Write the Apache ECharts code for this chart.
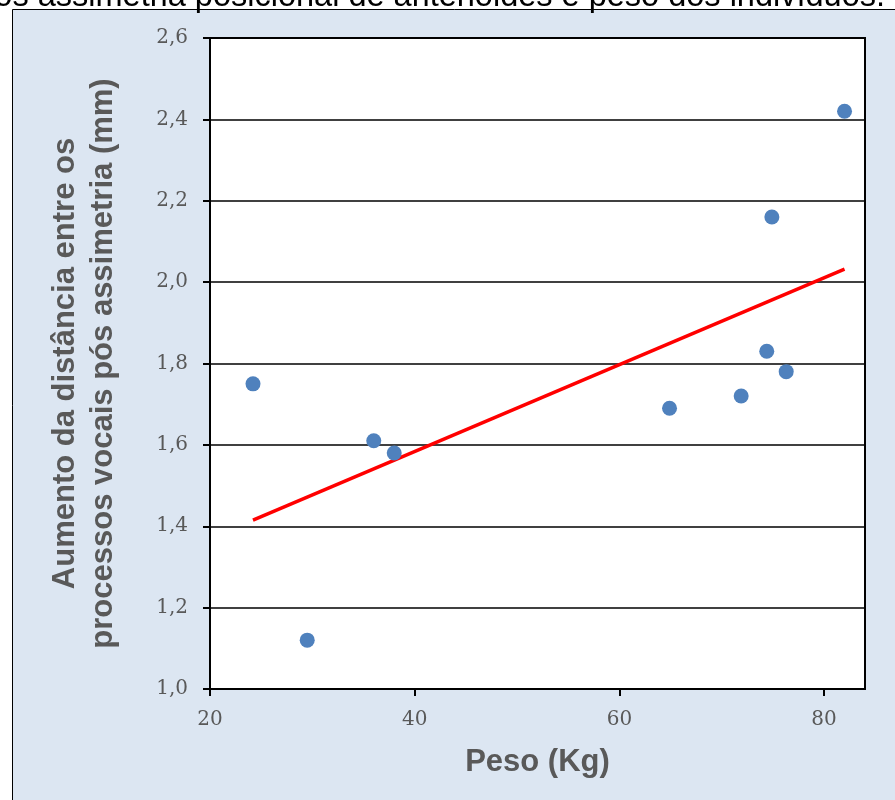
<!DOCTYPE html>
<html>
<head>
<meta charset="utf-8">
<script src="https://cdn.jsdelivr.net/npm/echarts@6/dist/echarts.min.js"></script>
<style>
  html, body { margin: 0; padding: 0; background: #ffffff; }
  #chart { width: 895px; height: 800px; }
</style>
</head>
<body>
<div id="chart"></div>
<script>
// peso (kg) e aumento da distância (mm)
const pesoKg = [24.2, 29.5, 36.0, 38.0, 64.9, 71.9, 74.4, 74.9, 76.3, 82.0];
const aumentoMm = [1.75, 1.12, 1.61, 1.58, 1.69, 1.72, 1.83, 2.16, 1.78, 2.42];
// linha de tendência (extremos)
const tendX = [24.2, 82.0];
const tendY = [1.415, 2.032];

const pontos = pesoKg.map(function (x, i) { return [x, aumentoMm[i]]; });
const tendencia = tendX.map(function (x, i) { return [x, tendY[i]]; });

const cinza = '#595959';
const myChart = echarts.init(document.getElementById('chart'));

const option = {
  backgroundColor: '#ffffff',
  animation: false,
  graphic: [
    {
      type: 'rect',
      z: -10,
      shape: { x: 12.5, y: 9.5, width: 900, height: 800 },
      style: { fill: '#dce6f2', stroke: '#000000', lineWidth: 1 }
    },
    {
      type: 'text',
      right: 10,
      top: -19,
      style: {
        text: 'Figura - Correlação entre o aumento da distância entre os processos vocais pós assimetria posicional de aritenoides e peso dos indivíduos.',
        fontFamily: 'Liberation Sans, Arial, sans-serif',
        fontSize: 32.5,
        fill: '#000000'
      }
    }
  ],
  grid: {
    left: 210,
    top: 38,
    right: 30,
    bottom: 111,
    show: true,
    backgroundColor: '#ffffff',
    borderColor: '#000000',
    borderWidth: 2
  },
  xAxis: {
    type: 'value',
    min: 20,
    max: 84,
    interval: 20,
    name: 'Peso (Kg)',
    nameLocation: 'middle',
    nameGap: 58,
    nameTextStyle: {
      color: cinza,
      fontFamily: 'Liberation Sans, Arial, sans-serif',
      fontWeight: 'bold',
      fontSize: 31
    },
    axisLine: { show: true, onZero: false, lineStyle: { color: '#000000', width: 2 } },
    axisTick: { show: true, length: 7, lineStyle: { color: '#000000', width: 2 } },
    axisLabel: {
      showMaxLabel: false,
      margin: 21,
      color: cinza,
      fontFamily: 'DejaVu Serif, serif',
      fontSize: 20
    },
    splitLine: { show: false }
  },
  yAxis: {
    type: 'value',
    min: 1.0,
    max: 2.6,
    interval: 0.2,
    name: 'Aumento da distância entre os\nprocessos vocais pós assimetria (mm)',
    nameLocation: 'middle',
    nameGap: 88,
    nameTextStyle: {
      color: cinza,
      fontFamily: 'Liberation Sans, Arial, sans-serif',
      fontWeight: 'bold',
      fontSize: 31,
      lineHeight: 38
    },
    axisLine: { show: true, onZero: false, lineStyle: { color: '#000000', width: 2 } },
    axisTick: { show: true, inside: false, length: 7, lineStyle: { color: '#000000', width: 2 } },
    axisLabel: {
      margin: 22,
      color: cinza,
      fontFamily: 'DejaVu Serif, serif',
      fontSize: 20,
      formatter: function (v) { return v.toFixed(1).replace('.', ','); }
    },
    splitLine: { show: true, lineStyle: { color: '#000000', width: 1.6 } }
  },
  series: [
    {
      type: 'scatter',
      data: pontos,
      symbolSize: 15,
      itemStyle: { color: '#4f81bd', opacity: 1 },
      z: 3
    },
    {
      type: 'line',
      data: tendencia,
      symbol: 'none',
      lineStyle: { color: '#ff0000', width: 3.5 },
      z: 2
    }
  ]
};

myChart.setOption(option);
</script>
</body>
</html>
